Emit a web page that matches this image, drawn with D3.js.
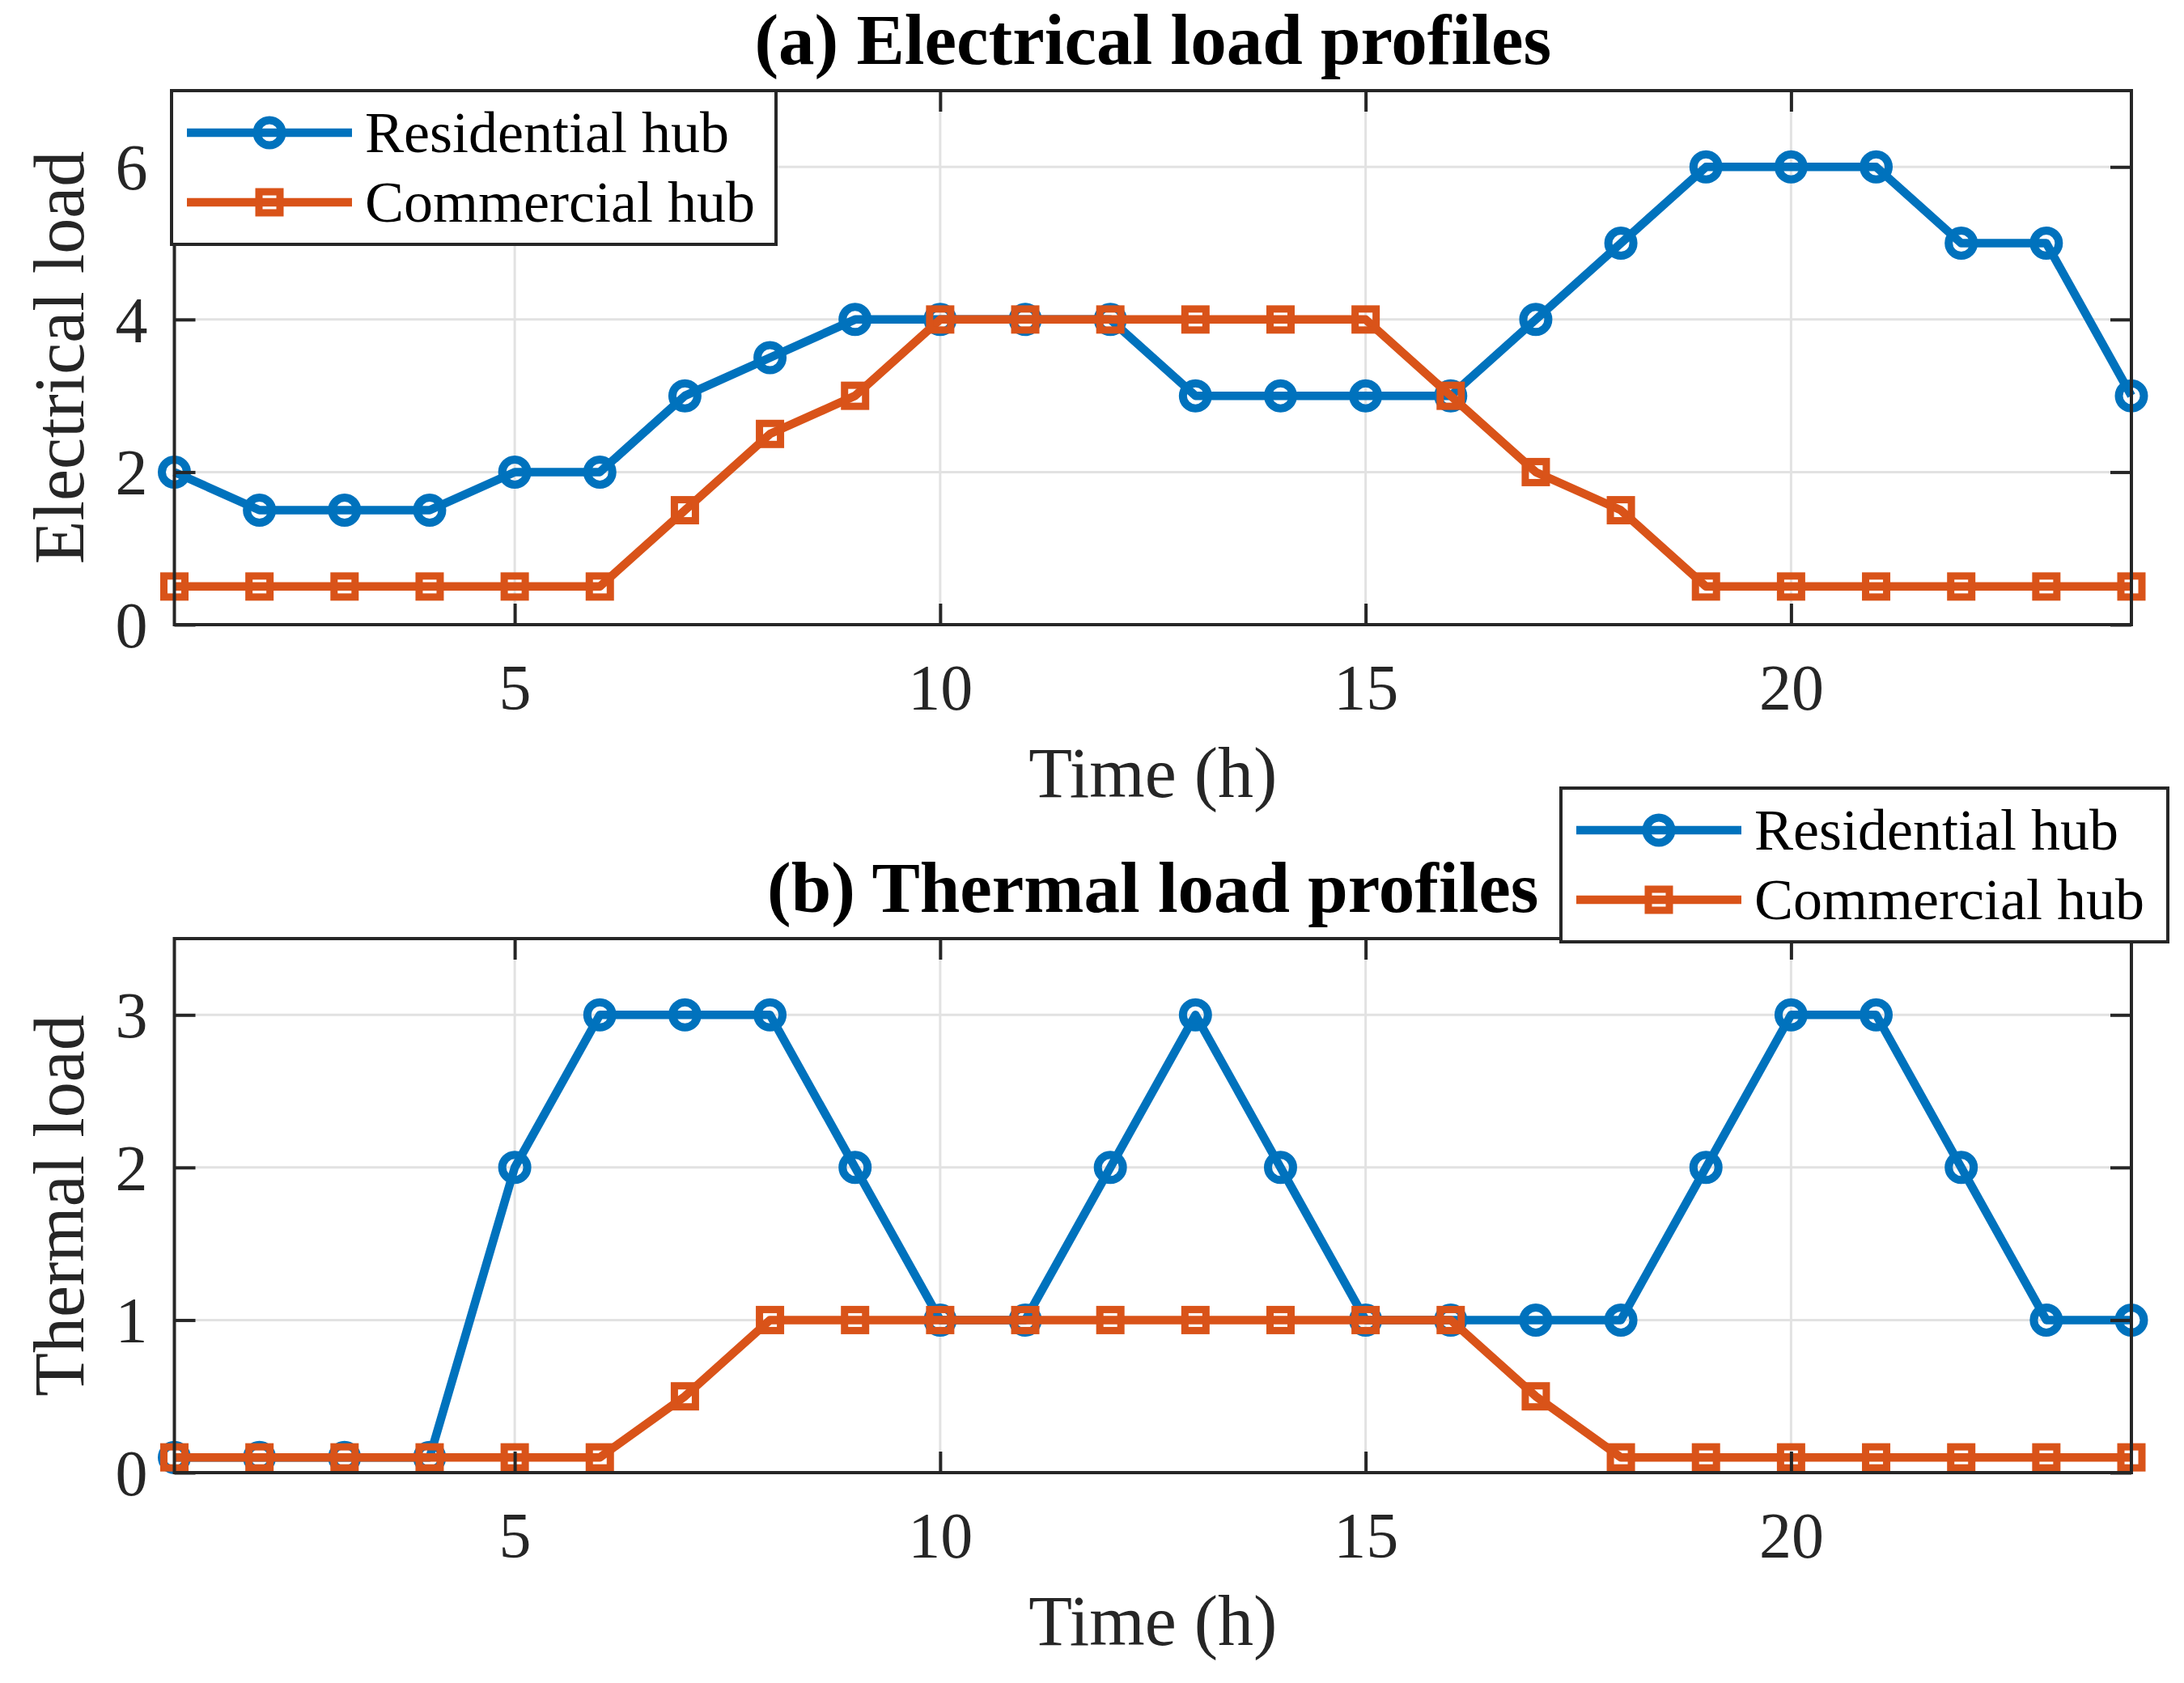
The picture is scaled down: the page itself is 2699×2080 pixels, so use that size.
<!DOCTYPE html>
<html>
<head>
<meta charset="utf-8">
<script src="https://cdn.jsdelivr.net/npm/d3@7"></script>
<style>
  body { margin: 0; background: #fff; }
  svg { display: block; }
  text { font-family: "Liberation Serif", "Times New Roman", serif; }
</style>
</head>
<body>
<svg id="chart" width="2699" height="2080"></svg>
<script>
// hours 1..24
var hours = d3.range(1, 25);

// electrical load
var elecResidential = [2, 1.5, 1.5, 1.5, 2, 2, 3, 3.5, 4, 4, 4, 4, 3, 3, 3, 3, 4, 5, 6, 6, 6, 5, 5, 3];
var elecCommercial  = [0.5, 0.5, 0.5, 0.5, 0.5, 0.5, 1.5, 2.5, 3, 4, 4, 4, 4, 4, 4, 3, 2, 1.5, 0.5, 0.5, 0.5, 0.5, 0.5, 0.5];

// thermal load
var thermResidential = [0.1, 0.1, 0.1, 0.1, 2, 3, 3, 3, 2, 1, 1, 2, 3, 2, 1, 1, 1, 1, 2, 3, 3, 2, 1, 1];
var thermCommercial  = [0.1, 0.1, 0.1, 0.1, 0.1, 0.1, 0.5, 1, 1, 1, 1, 1, 1, 1, 1, 1, 0.5, 0.1, 0.1, 0.1, 0.1, 0.1, 0.1, 0.1];

var xTicks = [5, 10, 15, 20];
var elecTicks = [0, 2, 4, 6];
var thermTicks = [0, 1, 2, 3];
var seriesNames = ['Residential hub', 'Commercial hub'];

var blue = '#0072BD', orange = '#D95319', axisCol = '#262626', gridCol = '#e2e2e2';

var svg = d3.select('#chart');
var x = d3.scaleLinear().domain([1, 24]).range([215.5, 2634]);

var panels = [
  { title: '(a) Electrical load profiles', ylabel: 'Electrical load', top: 112, bottom: 772,
    ymax: 7, ticks: elecTicks, res: elecResidential, com: elecCommercial, leg: [212, 112, 747] },
  { title: '(b) Thermal load profiles', ylabel: 'Thermal load', top: 1160, bottom: 1820,
    ymax: 3.5, ticks: thermTicks, res: thermResidential, com: thermCommercial, leg: [1929, 974, 750] }
];

panels.forEach(function(p){
  var y = d3.scaleLinear().domain([0, p.ymax]).range([p.bottom, p.top]);
  var g = svg.append('g');
  var L = x.range()[0], R = x.range()[1];

  // grid
  g.append('g').selectAll('line').data(xTicks).enter().append('line')
    .attr('x1', d => x(d)).attr('x2', d => x(d)).attr('y1', p.top).attr('y2', p.bottom)
    .attr('stroke', gridCol).attr('stroke-width', 3);
  g.append('g').selectAll('line').data(p.ticks).enter().append('line')
    .attr('x1', L).attr('x2', R).attr('y1', d => y(d)).attr('y2', d => y(d))
    .attr('stroke', gridCol).attr('stroke-width', 3);

  // series
  var line = d3.line().x((d, i) => x(hours[i])).y(d => y(d));
  g.append('path').datum(p.res).attr('d', line).attr('fill', 'none')
    .attr('stroke', blue).attr('stroke-width', 10.5).attr('stroke-linejoin', 'round');
  g.selectAll('.circ').data(p.res).enter().append('circle')
    .attr('cx', (d, i) => x(hours[i])).attr('cy', d => y(d)).attr('r', 15.5)
    .attr('fill', 'none').attr('stroke', blue).attr('stroke-width', 10);
  g.append('path').datum(p.com).attr('d', line).attr('fill', 'none')
    .attr('stroke', orange).attr('stroke-width', 10.5).attr('stroke-linejoin', 'round');
  g.selectAll('.sq').data(p.com).enter().append('rect')
    .attr('x', (d, i) => x(hours[i]) - 13).attr('y', d => y(d) - 13)
    .attr('width', 26).attr('height', 26)
    .attr('fill', 'none').attr('stroke', orange).attr('stroke-width', 9);

  // axes (ticks inward)
  var ax = [
    g.append('g').attr('transform', 'translate(0,' + p.bottom + ')')
      .call(d3.axisBottom(x).tickValues(xTicks).tickSize(-26).tickPadding(48).tickFormat(d3.format('d'))),
    g.append('g').attr('transform', 'translate(0,' + p.top + ')')
      .call(d3.axisTop(x).tickValues(xTicks).tickSize(-26).tickFormat('')),
    g.append('g').attr('transform', 'translate(' + L + ',0)')
      .call(d3.axisLeft(y).tickValues(p.ticks).tickSize(-26).tickPadding(33).tickFormat(d3.format('d'))),
    g.append('g').attr('transform', 'translate(' + R + ',0)')
      .call(d3.axisRight(y).tickValues(p.ticks).tickSize(-26).tickFormat(''))
  ];
  ax.forEach(function(a){
    a.select('.domain').remove();
    a.selectAll('line').attr('stroke', axisCol).attr('stroke-width', 4);
    a.selectAll('text').attr('font-size', 80).attr('fill', axisCol)
      .style('font-family', '"Liberation Serif", "Times New Roman", serif');
  });
  ax[2].selectAll('text').attr('dy', '0.34em');

  g.append('rect').attr('x', L).attr('y', p.top).attr('width', R - L).attr('height', p.bottom - p.top)
    .attr('fill', 'none').attr('stroke', axisCol).attr('stroke-width', 4);

  // labels
  g.append('text').attr('x', (L + R) / 2).attr('y', p.bottom + 213)
    .attr('text-anchor', 'middle').attr('font-size', 88).attr('fill', axisCol).text('Time (h)');
  g.append('text').attr('transform', 'translate(103,' + ((p.top + p.bottom) / 2) + ') rotate(-90)')
    .attr('text-anchor', 'middle').attr('font-size', 88).attr('fill', axisCol).text(p.ylabel);
  g.append('text').attr('x', (L + R) / 2).attr('y', p.top - 33)
    .attr('text-anchor', 'middle').attr('font-size', 89).attr('font-weight', 'bold')
    .attr('fill', '#000').text(p.title);

  // legend
  var lx = p.leg[0], ly = p.leg[1], lw = p.leg[2];
  var lg = svg.append('g').attr('transform', 'translate(' + lx + ',' + ly + ')');
  lg.append('rect').attr('width', lw).attr('height', 190)
    .attr('fill', '#fff').attr('stroke', axisCol).attr('stroke-width', 4);
  var rows = [{ name: seriesNames[0], col: blue, m: 'o', yy: 52 },
              { name: seriesNames[1], col: orange, m: 's', yy: 138 }];
  rows.forEach(function(r){
    lg.append('line').attr('x1', 19).attr('x2', 223).attr('y1', r.yy).attr('y2', r.yy)
      .attr('stroke', r.col).attr('stroke-width', 10.5);
    if (r.m === 'o') {
      lg.append('circle').attr('cx', 121).attr('cy', r.yy).attr('r', 15.5)
        .attr('fill', 'none').attr('stroke', r.col).attr('stroke-width', 10);
    } else {
      lg.append('rect').attr('x', 108).attr('y', r.yy - 13).attr('width', 26).attr('height', 26)
        .attr('fill', 'none').attr('stroke', r.col).attr('stroke-width', 9);
    }
    lg.append('text').attr('x', 239).attr('y', r.yy).attr('dy', '0.34em')
      .attr('font-size', 72).attr('fill', '#000').text(r.name);
  });
});
</script>
</body>
</html>
